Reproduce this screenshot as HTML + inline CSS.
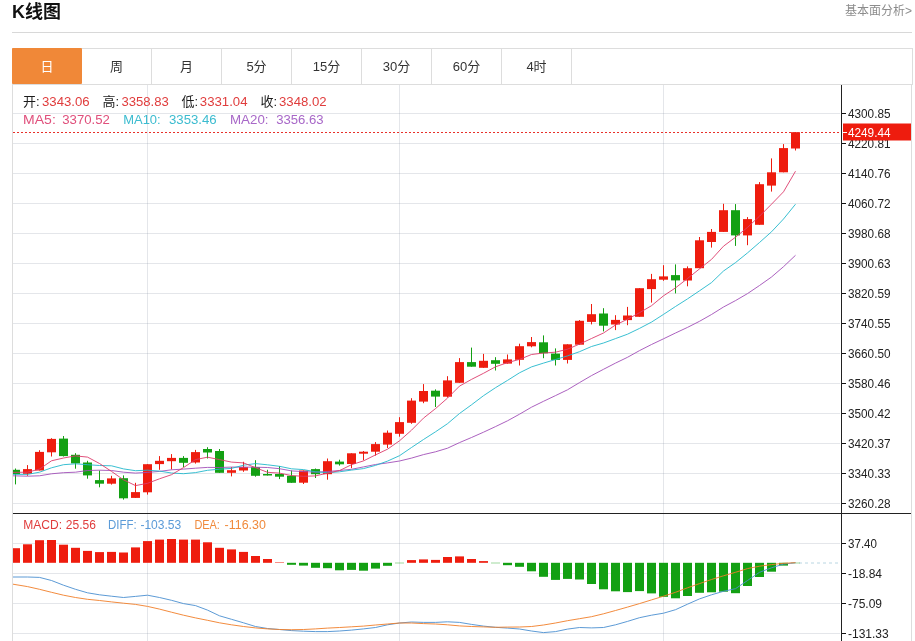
<!DOCTYPE html>
<html lang="zh-CN"><head><meta charset="utf-8"><title>K线图</title>
<style>
html,body{margin:0;padding:0;background:#fff;}
body{width:915px;height:641px;position:relative;overflow:hidden;font-family:"Liberation Sans","Noto Sans CJK SC",sans-serif;}
.title{position:absolute;left:12px;top:0;font-size:18px;font-weight:bold;color:#111;line-height:24px;}
.more{position:absolute;right:3px;top:3px;font-size:12px;color:#8c8c8c;line-height:17px;}
.hr{position:absolute;left:12px;top:32px;width:900px;height:1px;background:#d8d8d8;}
.tabs{position:absolute;left:12px;top:48px;width:899px;height:35px;border:1px solid #ddd;box-sizing:content-box;}
.tab{float:left;width:69px;height:35px;line-height:36px;border-right:1px solid #ddd;text-align:center;font-size:13px;color:#333;}
.tab.on{background:#f08838;color:#fff;border-radius:1px;margin:-1px 0 0 -1px;width:70px;height:36px;border-right:0;line-height:38px;}
</style></head><body>
<div class="title">K线图</div>
<div class="more">基本面分析&gt;</div>
<div class="hr"></div>
<div class="tabs"><div class="tab on">日</div><div class="tab">周</div><div class="tab">月</div><div class="tab">5分</div><div class="tab">15分</div><div class="tab">30分</div><div class="tab">60分</div><div class="tab">4时</div></div>
<svg width="915" height="641" viewBox="0 0 915 641" style="position:absolute;left:0;top:0" font-family="'Liberation Sans','Noto Sans CJK SC',sans-serif">
<defs><clipPath id="cp"><rect x="13" y="85" width="828" height="556"/></clipPath></defs>
<line x1="13" x2="840" y1="113.5" y2="113.5" stroke="#7a8096" stroke-opacity="0.2" stroke-width="1"/>
<line x1="13" x2="840" y1="143.5" y2="143.5" stroke="#7a8096" stroke-opacity="0.2" stroke-width="1"/>
<line x1="13" x2="840" y1="173.5" y2="173.5" stroke="#7a8096" stroke-opacity="0.2" stroke-width="1"/>
<line x1="13" x2="840" y1="203.5" y2="203.5" stroke="#7a8096" stroke-opacity="0.2" stroke-width="1"/>
<line x1="13" x2="840" y1="233.5" y2="233.5" stroke="#7a8096" stroke-opacity="0.2" stroke-width="1"/>
<line x1="13" x2="840" y1="263.5" y2="263.5" stroke="#7a8096" stroke-opacity="0.2" stroke-width="1"/>
<line x1="13" x2="840" y1="293.5" y2="293.5" stroke="#7a8096" stroke-opacity="0.2" stroke-width="1"/>
<line x1="13" x2="840" y1="323.5" y2="323.5" stroke="#7a8096" stroke-opacity="0.2" stroke-width="1"/>
<line x1="13" x2="840" y1="353.5" y2="353.5" stroke="#7a8096" stroke-opacity="0.2" stroke-width="1"/>
<line x1="13" x2="840" y1="383.5" y2="383.5" stroke="#7a8096" stroke-opacity="0.2" stroke-width="1"/>
<line x1="13" x2="840" y1="413.5" y2="413.5" stroke="#7a8096" stroke-opacity="0.2" stroke-width="1"/>
<line x1="13" x2="840" y1="443.5" y2="443.5" stroke="#7a8096" stroke-opacity="0.2" stroke-width="1"/>
<line x1="13" x2="840" y1="473.5" y2="473.5" stroke="#7a8096" stroke-opacity="0.2" stroke-width="1"/>
<line x1="13" x2="840" y1="503.5" y2="503.5" stroke="#7a8096" stroke-opacity="0.2" stroke-width="1"/>
<line x1="13" x2="840" y1="543.5" y2="543.5" stroke="#7a8096" stroke-opacity="0.2" stroke-width="1"/>
<line x1="13" x2="840" y1="573.5" y2="573.5" stroke="#7a8096" stroke-opacity="0.2" stroke-width="1"/>
<line x1="13" x2="840" y1="603.5" y2="603.5" stroke="#7a8096" stroke-opacity="0.2" stroke-width="1"/>
<line x1="13" x2="840" y1="633.5" y2="633.5" stroke="#7a8096" stroke-opacity="0.2" stroke-width="1"/>
<line x1="147.5" x2="147.5" y1="85" y2="641" stroke="#7a8096" stroke-opacity="0.2" stroke-width="1"/>
<line x1="399.5" x2="399.5" y1="85" y2="641" stroke="#7a8096" stroke-opacity="0.2" stroke-width="1"/>
<line x1="663.5" x2="663.5" y1="85" y2="641" stroke="#7a8096" stroke-opacity="0.2" stroke-width="1"/>
<line x1="12.5" x2="12.5" y1="84" y2="641" stroke="#ddd" stroke-width="1"/>
<line x1="911.5" x2="911.5" y1="84" y2="641" stroke="#ddd" stroke-width="1"/>
<line x1="799" x2="840" y1="563" y2="563" stroke="#b9d6e2" stroke-width="1" stroke-dasharray="3,3"/>
<g clip-path="url(#cp)">
<line x1="15.5" x2="15.5" y1="468.5" y2="484.4" stroke="#13a013" stroke-width="1"/>
<rect x="11.0" y="469.8" width="9" height="4.2" fill="#13a013"/>
<line x1="27.5" x2="27.5" y1="465.1" y2="475.8" stroke="#ee1c0e" stroke-width="1"/>
<rect x="23.0" y="469.1" width="9" height="4.7" fill="#ee1c0e"/>
<line x1="39.5" x2="39.5" y1="450.2" y2="470.5" stroke="#ee1c0e" stroke-width="1"/>
<rect x="35.0" y="451.9" width="9" height="18.6" fill="#ee1c0e"/>
<line x1="51.5" x2="51.5" y1="438.2" y2="456.5" stroke="#ee1c0e" stroke-width="1"/>
<rect x="47.0" y="438.9" width="9" height="13.4" fill="#ee1c0e"/>
<line x1="63.5" x2="63.5" y1="436.0" y2="456.5" stroke="#13a013" stroke-width="1"/>
<rect x="59.0" y="438.6" width="9" height="17.5" fill="#13a013"/>
<line x1="75.5" x2="75.5" y1="453.2" y2="468.7" stroke="#13a013" stroke-width="1"/>
<rect x="71.0" y="454.8" width="9" height="8.6" fill="#13a013"/>
<line x1="87.5" x2="87.5" y1="460.8" y2="478.7" stroke="#13a013" stroke-width="1"/>
<rect x="83.0" y="462.5" width="9" height="12.9" fill="#13a013"/>
<line x1="99.5" x2="99.5" y1="470.5" y2="487.3" stroke="#13a013" stroke-width="1"/>
<rect x="95.0" y="480.1" width="9" height="3.6" fill="#13a013"/>
<line x1="111.5" x2="111.5" y1="475.8" y2="484.6" stroke="#ee1c0e" stroke-width="1"/>
<rect x="107.0" y="478.4" width="9" height="5.3" fill="#ee1c0e"/>
<line x1="123.5" x2="123.5" y1="475.4" y2="499.6" stroke="#13a013" stroke-width="1"/>
<rect x="119.0" y="478.2" width="9" height="20.1" fill="#13a013"/>
<line x1="135.5" x2="135.5" y1="482.8" y2="497.9" stroke="#ee1c0e" stroke-width="1"/>
<rect x="131.0" y="492.1" width="9" height="5.8" fill="#ee1c0e"/>
<line x1="147.5" x2="147.5" y1="464.2" y2="494.6" stroke="#ee1c0e" stroke-width="1"/>
<rect x="143.0" y="464.2" width="9" height="28.1" fill="#ee1c0e"/>
<line x1="159.5" x2="159.5" y1="456.1" y2="469.8" stroke="#ee1c0e" stroke-width="1"/>
<rect x="155.0" y="460.8" width="9" height="3.3" fill="#ee1c0e"/>
<line x1="171.5" x2="171.5" y1="454.1" y2="469.5" stroke="#ee1c0e" stroke-width="1"/>
<rect x="167.0" y="457.9" width="9" height="3.3" fill="#ee1c0e"/>
<line x1="183.5" x2="183.5" y1="456.1" y2="467.1" stroke="#13a013" stroke-width="1"/>
<rect x="179.0" y="457.9" width="9" height="4.9" fill="#13a013"/>
<line x1="195.5" x2="195.5" y1="449.9" y2="463.6" stroke="#ee1c0e" stroke-width="1"/>
<rect x="191.0" y="452.1" width="9" height="10.4" fill="#ee1c0e"/>
<line x1="207.5" x2="207.5" y1="447.2" y2="458.5" stroke="#13a013" stroke-width="1"/>
<rect x="203.0" y="449.0" width="9" height="3.5" fill="#13a013"/>
<line x1="219.5" x2="219.5" y1="449.0" y2="472.8" stroke="#13a013" stroke-width="1"/>
<rect x="215.0" y="451.0" width="9" height="21.8" fill="#13a013"/>
<line x1="231.5" x2="231.5" y1="467.1" y2="476.4" stroke="#ee1c0e" stroke-width="1"/>
<rect x="227.0" y="470.2" width="9" height="2.6" fill="#ee1c0e"/>
<line x1="243.5" x2="243.5" y1="461.8" y2="471.8" stroke="#ee1c0e" stroke-width="1"/>
<rect x="239.0" y="467.1" width="9" height="3.4" fill="#ee1c0e"/>
<line x1="255.5" x2="255.5" y1="460.2" y2="476.7" stroke="#13a013" stroke-width="1"/>
<rect x="251.0" y="467.1" width="9" height="8.7" fill="#13a013"/>
<line x1="267.5" x2="267.5" y1="469.8" y2="475.5" stroke="#13a013" stroke-width="1"/>
<rect x="263.0" y="474.0" width="9" height="1.5" fill="#13a013"/>
<line x1="279.5" x2="279.5" y1="466.1" y2="479.1" stroke="#13a013" stroke-width="1"/>
<rect x="275.0" y="474.0" width="9" height="2.7" fill="#13a013"/>
<line x1="291.5" x2="291.5" y1="470.5" y2="482.8" stroke="#13a013" stroke-width="1"/>
<rect x="287.0" y="475.8" width="9" height="7.0" fill="#13a013"/>
<line x1="303.5" x2="303.5" y1="470.5" y2="484.0" stroke="#ee1c0e" stroke-width="1"/>
<rect x="299.0" y="470.5" width="9" height="12.2" fill="#ee1c0e"/>
<line x1="315.5" x2="315.5" y1="468.5" y2="478.0" stroke="#13a013" stroke-width="1"/>
<rect x="311.0" y="469.1" width="9" height="5.1" fill="#13a013"/>
<line x1="327.5" x2="327.5" y1="458.5" y2="479.7" stroke="#ee1c0e" stroke-width="1"/>
<rect x="323.0" y="461.2" width="9" height="13.0" fill="#ee1c0e"/>
<line x1="339.5" x2="339.5" y1="459.7" y2="465.6" stroke="#13a013" stroke-width="1"/>
<rect x="335.0" y="461.6" width="9" height="2.7" fill="#13a013"/>
<line x1="351.5" x2="351.5" y1="453.3" y2="468.2" stroke="#ee1c0e" stroke-width="1"/>
<rect x="347.0" y="453.3" width="9" height="10.7" fill="#ee1c0e"/>
<line x1="363.5" x2="363.5" y1="451.0" y2="460.3" stroke="#ee1c0e" stroke-width="1"/>
<rect x="359.0" y="451.7" width="9" height="2.0" fill="#ee1c0e"/>
<line x1="375.5" x2="375.5" y1="442.1" y2="455.6" stroke="#ee1c0e" stroke-width="1"/>
<rect x="371.0" y="444.1" width="9" height="7.6" fill="#ee1c0e"/>
<line x1="387.5" x2="387.5" y1="430.5" y2="448.0" stroke="#ee1c0e" stroke-width="1"/>
<rect x="383.0" y="432.7" width="9" height="11.9" fill="#ee1c0e"/>
<line x1="399.5" x2="399.5" y1="417.2" y2="436.7" stroke="#ee1c0e" stroke-width="1"/>
<rect x="395.0" y="422.1" width="9" height="11.7" fill="#ee1c0e"/>
<line x1="411.5" x2="411.5" y1="398.2" y2="423.8" stroke="#ee1c0e" stroke-width="1"/>
<rect x="407.0" y="400.6" width="9" height="22.2" fill="#ee1c0e"/>
<line x1="423.5" x2="423.5" y1="384.1" y2="403.2" stroke="#ee1c0e" stroke-width="1"/>
<rect x="419.0" y="391.0" width="9" height="10.6" fill="#ee1c0e"/>
<line x1="435.5" x2="435.5" y1="389.4" y2="407.0" stroke="#13a013" stroke-width="1"/>
<rect x="431.0" y="390.7" width="9" height="5.9" fill="#13a013"/>
<line x1="447.5" x2="447.5" y1="376.2" y2="397.5" stroke="#ee1c0e" stroke-width="1"/>
<rect x="443.0" y="380.4" width="9" height="16.3" fill="#ee1c0e"/>
<line x1="459.5" x2="459.5" y1="358.1" y2="382.8" stroke="#ee1c0e" stroke-width="1"/>
<rect x="455.0" y="362.1" width="9" height="20.7" fill="#ee1c0e"/>
<line x1="471.5" x2="471.5" y1="347.6" y2="366.7" stroke="#13a013" stroke-width="1"/>
<rect x="467.0" y="362.1" width="9" height="4.6" fill="#13a013"/>
<line x1="483.5" x2="483.5" y1="353.9" y2="367.8" stroke="#ee1c0e" stroke-width="1"/>
<rect x="479.0" y="360.8" width="9" height="7.0" fill="#ee1c0e"/>
<line x1="495.5" x2="495.5" y1="357.2" y2="370.5" stroke="#13a013" stroke-width="1"/>
<rect x="491.0" y="360.2" width="9" height="3.6" fill="#13a013"/>
<line x1="507.5" x2="507.5" y1="354.5" y2="363.6" stroke="#ee1c0e" stroke-width="1"/>
<rect x="503.0" y="359.4" width="9" height="4.2" fill="#ee1c0e"/>
<line x1="519.5" x2="519.5" y1="343.7" y2="365.5" stroke="#ee1c0e" stroke-width="1"/>
<rect x="515.0" y="346.2" width="9" height="13.6" fill="#ee1c0e"/>
<line x1="531.5" x2="531.5" y1="337.0" y2="347.3" stroke="#ee1c0e" stroke-width="1"/>
<rect x="527.0" y="342.1" width="9" height="4.2" fill="#ee1c0e"/>
<line x1="543.5" x2="543.5" y1="335.4" y2="358.2" stroke="#13a013" stroke-width="1"/>
<rect x="539.0" y="342.3" width="9" height="11.0" fill="#13a013"/>
<line x1="555.5" x2="555.5" y1="348.4" y2="365.5" stroke="#13a013" stroke-width="1"/>
<rect x="551.0" y="353.6" width="9" height="6.3" fill="#13a013"/>
<line x1="567.5" x2="567.5" y1="344.3" y2="363.5" stroke="#ee1c0e" stroke-width="1"/>
<rect x="563.0" y="344.3" width="9" height="15.6" fill="#ee1c0e"/>
<line x1="579.5" x2="579.5" y1="320.1" y2="344.7" stroke="#ee1c0e" stroke-width="1"/>
<rect x="575.0" y="320.8" width="9" height="23.9" fill="#ee1c0e"/>
<line x1="591.5" x2="591.5" y1="304.0" y2="324.4" stroke="#ee1c0e" stroke-width="1"/>
<rect x="587.0" y="314.2" width="9" height="7.7" fill="#ee1c0e"/>
<line x1="603.5" x2="603.5" y1="308.2" y2="331.4" stroke="#13a013" stroke-width="1"/>
<rect x="599.0" y="313.5" width="9" height="12.2" fill="#13a013"/>
<line x1="615.5" x2="615.5" y1="315.2" y2="330.1" stroke="#ee1c0e" stroke-width="1"/>
<rect x="611.0" y="319.9" width="9" height="4.6" fill="#ee1c0e"/>
<line x1="627.5" x2="627.5" y1="306.9" y2="325.2" stroke="#ee1c0e" stroke-width="1"/>
<rect x="623.0" y="315.5" width="9" height="4.6" fill="#ee1c0e"/>
<line x1="639.5" x2="639.5" y1="288.2" y2="316.8" stroke="#ee1c0e" stroke-width="1"/>
<rect x="635.0" y="288.2" width="9" height="28.6" fill="#ee1c0e"/>
<line x1="651.5" x2="651.5" y1="273.9" y2="302.6" stroke="#ee1c0e" stroke-width="1"/>
<rect x="647.0" y="279.2" width="9" height="9.9" fill="#ee1c0e"/>
<line x1="663.5" x2="663.5" y1="265.2" y2="280.8" stroke="#ee1c0e" stroke-width="1"/>
<rect x="659.0" y="276.4" width="9" height="3.3" fill="#ee1c0e"/>
<line x1="675.5" x2="675.5" y1="264.4" y2="293.4" stroke="#13a013" stroke-width="1"/>
<rect x="671.0" y="275.1" width="9" height="5.3" fill="#13a013"/>
<line x1="687.5" x2="687.5" y1="266.4" y2="286.3" stroke="#ee1c0e" stroke-width="1"/>
<rect x="683.0" y="268.2" width="9" height="12.3" fill="#ee1c0e"/>
<line x1="699.5" x2="699.5" y1="237.0" y2="268.2" stroke="#ee1c0e" stroke-width="1"/>
<rect x="695.0" y="240.3" width="9" height="27.9" fill="#ee1c0e"/>
<line x1="711.5" x2="711.5" y1="229.0" y2="247.6" stroke="#ee1c0e" stroke-width="1"/>
<rect x="707.0" y="231.9" width="9" height="10.1" fill="#ee1c0e"/>
<line x1="723.5" x2="723.5" y1="203.8" y2="231.9" stroke="#ee1c0e" stroke-width="1"/>
<rect x="719.0" y="210.2" width="9" height="21.7" fill="#ee1c0e"/>
<line x1="735.5" x2="735.5" y1="204.1" y2="245.9" stroke="#13a013" stroke-width="1"/>
<rect x="731.0" y="210.2" width="9" height="25.2" fill="#13a013"/>
<line x1="747.5" x2="747.5" y1="217.1" y2="245.2" stroke="#ee1c0e" stroke-width="1"/>
<rect x="743.0" y="219.1" width="9" height="16.3" fill="#ee1c0e"/>
<line x1="759.5" x2="759.5" y1="182.1" y2="224.8" stroke="#ee1c0e" stroke-width="1"/>
<rect x="755.0" y="184.2" width="9" height="40.6" fill="#ee1c0e"/>
<line x1="771.5" x2="771.5" y1="158.4" y2="191.6" stroke="#ee1c0e" stroke-width="1"/>
<rect x="767.0" y="172.3" width="9" height="13.3" fill="#ee1c0e"/>
<line x1="783.5" x2="783.5" y1="144.1" y2="172.3" stroke="#ee1c0e" stroke-width="1"/>
<rect x="779.0" y="148.1" width="9" height="24.2" fill="#ee1c0e"/>
<line x1="795.5" x2="795.5" y1="132.2" y2="150.5" stroke="#ee1c0e" stroke-width="1"/>
<rect x="791.0" y="132.2" width="9" height="16.3" fill="#ee1c0e"/>
<polyline fill="none" stroke="#a24fb8" stroke-width="0.9" stroke-linejoin="round" points="13.0,475.8 27.5,476.2 39.5,475.8 51.5,473.8 63.5,472.7 75.5,472.2 87.5,470.5 99.5,470.2 111.5,470.5 123.5,472.2 135.5,473.1 147.5,472.4 159.5,471.4 171.5,469.8 183.5,469.1 195.5,468.2 207.5,467.4 219.5,467.5 231.5,467.1 243.5,467.1 255.5,467.2 267.5,467.5 279.5,468.7 291.5,470.9 303.5,471.6 315.5,472.2 327.5,471.5 339.5,470.5 351.5,469.3 363.5,466.9 375.5,464.5 387.5,462.9 399.5,461.0 411.5,458.1 423.5,454.6 435.5,451.8 447.5,448.2 459.5,442.6 471.5,437.5 483.5,432.2 495.5,426.6 507.5,420.8 519.5,414.2 531.5,407.2 543.5,401.3 555.5,395.6 567.5,389.8 579.5,382.6 591.5,375.6 603.5,369.3 615.5,363.1 627.5,357.3 639.5,350.6 651.5,344.5 663.5,338.8 675.5,333.0 687.5,327.4 699.5,321.3 711.5,314.5 723.5,307.0 735.5,300.6 747.5,293.6 759.5,285.5 771.5,277.0 783.5,266.7 795.5,255.3"/>
<polyline fill="none" stroke="#22b8cc" stroke-width="0.9" stroke-linejoin="round" points="13.0,474.4 27.5,474.4 39.5,472.2 51.5,467.8 63.5,464.7 75.5,463.8 87.5,464.7 99.5,465.5 111.5,465.8 123.5,468.9 135.5,470.7 147.5,470.2 159.5,471.1 171.5,473.0 183.5,473.7 195.5,472.6 207.5,470.3 219.5,469.2 231.5,468.4 243.5,465.2 255.5,463.6 267.5,464.8 279.5,466.3 291.5,468.8 303.5,469.6 315.5,471.8 327.5,472.7 339.5,471.8 351.5,470.1 363.5,468.6 375.5,465.4 387.5,461.1 399.5,455.7 411.5,447.5 423.5,439.5 435.5,431.8 447.5,423.7 459.5,413.5 471.5,404.8 483.5,395.7 495.5,387.7 507.5,380.4 519.5,372.8 531.5,366.9 543.5,363.1 555.5,359.5 567.5,355.9 579.5,351.7 591.5,346.5 603.5,343.0 615.5,338.6 627.5,334.2 639.5,328.4 651.5,322.1 663.5,314.4 675.5,306.5 687.5,298.9 699.5,290.8 711.5,282.6 723.5,271.0 735.5,262.6 747.5,252.9 759.5,242.5 771.5,231.8 783.5,219.0 795.5,204.2"/>
<polyline fill="none" stroke="#dc3c6c" stroke-width="0.9" stroke-linejoin="round" points="13.0,472.4 27.5,472.2 39.5,469.1 51.5,460.8 63.5,458.0 75.5,455.9 87.5,457.1 99.5,463.5 111.5,471.4 123.5,479.8 135.5,485.6 147.5,483.3 159.5,478.8 171.5,474.7 183.5,467.6 195.5,459.6 207.5,457.2 219.5,459.6 231.5,462.1 243.5,462.9 255.5,467.7 267.5,472.3 279.5,473.1 291.5,475.6 303.5,476.3 315.5,475.9 327.5,473.1 339.5,470.6 351.5,464.7 363.5,460.9 375.5,454.9 387.5,449.2 399.5,440.8 411.5,430.2 423.5,418.1 435.5,408.6 447.5,398.1 459.5,386.1 471.5,379.4 483.5,373.3 495.5,366.8 507.5,362.6 519.5,359.4 531.5,354.5 543.5,353.0 555.5,352.2 567.5,349.2 579.5,344.1 591.5,338.5 603.5,333.0 615.5,325.0 627.5,319.2 639.5,312.7 651.5,305.7 663.5,295.8 675.5,287.9 687.5,278.5 699.5,268.9 711.5,259.4 723.5,246.2 735.5,237.2 747.5,227.4 759.5,216.2 771.5,204.2 783.5,191.8 795.5,171.2"/>
<rect x="11.0" y="548.2" width="9" height="14.6" fill="#ee1c0e"/>
<rect x="23.0" y="544.3" width="9" height="18.5" fill="#ee1c0e"/>
<rect x="35.0" y="540.2" width="9" height="22.6" fill="#ee1c0e"/>
<rect x="47.0" y="540.0" width="9" height="22.8" fill="#ee1c0e"/>
<rect x="59.0" y="544.7" width="9" height="18.1" fill="#ee1c0e"/>
<rect x="71.0" y="547.8" width="9" height="15.0" fill="#ee1c0e"/>
<rect x="83.0" y="550.9" width="9" height="11.9" fill="#ee1c0e"/>
<rect x="95.0" y="552.1" width="9" height="10.7" fill="#ee1c0e"/>
<rect x="107.0" y="551.9" width="9" height="10.9" fill="#ee1c0e"/>
<rect x="119.0" y="552.5" width="9" height="10.3" fill="#ee1c0e"/>
<rect x="131.0" y="547.4" width="9" height="15.4" fill="#ee1c0e"/>
<rect x="143.0" y="541.1" width="9" height="21.7" fill="#ee1c0e"/>
<rect x="155.0" y="539.6" width="9" height="23.2" fill="#ee1c0e"/>
<rect x="167.0" y="539.0" width="9" height="23.8" fill="#ee1c0e"/>
<rect x="179.0" y="539.6" width="9" height="23.2" fill="#ee1c0e"/>
<rect x="191.0" y="539.6" width="9" height="23.2" fill="#ee1c0e"/>
<rect x="203.0" y="542.3" width="9" height="20.5" fill="#ee1c0e"/>
<rect x="215.0" y="547.8" width="9" height="15.0" fill="#ee1c0e"/>
<rect x="227.0" y="549.4" width="9" height="13.4" fill="#ee1c0e"/>
<rect x="239.0" y="551.9" width="9" height="10.9" fill="#ee1c0e"/>
<rect x="251.0" y="556.0" width="9" height="6.8" fill="#ee1c0e"/>
<rect x="263.0" y="559.0" width="9" height="3.8" fill="#ee1c0e"/>
<rect x="275.0" y="562.3" width="9" height="0.5" fill="#ee1c0e"/>
<rect x="287.0" y="562.8" width="9" height="2.0" fill="#13a013"/>
<rect x="299.0" y="562.8" width="9" height="2.8" fill="#13a013"/>
<rect x="311.0" y="562.8" width="9" height="5.0" fill="#13a013"/>
<rect x="323.0" y="562.8" width="9" height="5.4" fill="#13a013"/>
<rect x="335.0" y="562.8" width="9" height="7.5" fill="#13a013"/>
<rect x="347.0" y="562.8" width="9" height="7.1" fill="#13a013"/>
<rect x="359.0" y="562.8" width="9" height="7.9" fill="#13a013"/>
<rect x="371.0" y="562.8" width="9" height="5.8" fill="#13a013"/>
<rect x="383.0" y="562.8" width="9" height="3.0" fill="#13a013"/>
<rect x="395.0" y="562.8" width="9" height="0.4" fill="#13a013"/>
<rect x="407.0" y="560.1" width="9" height="2.7" fill="#ee1c0e"/>
<rect x="419.0" y="559.4" width="9" height="3.4" fill="#ee1c0e"/>
<rect x="431.0" y="559.9" width="9" height="2.9" fill="#ee1c0e"/>
<rect x="443.0" y="557.0" width="9" height="5.8" fill="#ee1c0e"/>
<rect x="455.0" y="556.4" width="9" height="6.4" fill="#ee1c0e"/>
<rect x="467.0" y="559.0" width="9" height="3.8" fill="#ee1c0e"/>
<rect x="479.0" y="561.1" width="9" height="1.7" fill="#ee1c0e"/>
<rect x="491.0" y="562.8" width="9" height="0.4" fill="#13a013"/>
<rect x="503.0" y="562.8" width="9" height="2.4" fill="#13a013"/>
<rect x="515.0" y="562.8" width="9" height="4.0" fill="#13a013"/>
<rect x="527.0" y="562.8" width="9" height="8.5" fill="#13a013"/>
<rect x="539.0" y="562.8" width="9" height="14.0" fill="#13a013"/>
<rect x="551.0" y="562.8" width="9" height="17.1" fill="#13a013"/>
<rect x="563.0" y="562.8" width="9" height="16.1" fill="#13a013"/>
<rect x="575.0" y="562.8" width="9" height="16.7" fill="#13a013"/>
<rect x="587.0" y="562.8" width="9" height="21.2" fill="#13a013"/>
<rect x="599.0" y="562.8" width="9" height="26.5" fill="#13a013"/>
<rect x="611.0" y="562.8" width="9" height="28.5" fill="#13a013"/>
<rect x="623.0" y="562.8" width="9" height="29.3" fill="#13a013"/>
<rect x="635.0" y="562.8" width="9" height="28.3" fill="#13a013"/>
<rect x="647.0" y="562.8" width="9" height="30.6" fill="#13a013"/>
<rect x="659.0" y="562.8" width="9" height="34.0" fill="#13a013"/>
<rect x="671.0" y="562.8" width="9" height="35.5" fill="#13a013"/>
<rect x="683.0" y="562.8" width="9" height="33.2" fill="#13a013"/>
<rect x="695.0" y="562.8" width="9" height="30.0" fill="#13a013"/>
<rect x="707.0" y="562.8" width="9" height="29.5" fill="#13a013"/>
<rect x="719.0" y="562.8" width="9" height="28.9" fill="#13a013"/>
<rect x="731.0" y="562.8" width="9" height="30.4" fill="#13a013"/>
<rect x="743.0" y="562.8" width="9" height="23.2" fill="#13a013"/>
<rect x="755.0" y="562.8" width="9" height="14.2" fill="#13a013"/>
<rect x="767.0" y="562.8" width="9" height="8.9" fill="#13a013"/>
<rect x="779.0" y="562.8" width="9" height="2.8" fill="#13a013"/>
<rect x="791.0" y="562.8" width="9" height="0.4" fill="#13a013"/>
<polyline fill="none" stroke="#4a8fd0" stroke-width="0.9" stroke-linejoin="round" points="13.0,577.0 27.5,577.0 39.5,577.4 51.5,580.5 63.5,585.2 75.5,589.3 87.5,592.8 99.5,594.8 111.5,596.2 123.5,597.5 135.5,596.4 147.5,595.2 159.5,597.5 171.5,600.3 183.5,603.6 195.5,605.6 207.5,610.1 219.5,615.8 231.5,619.3 243.5,622.8 255.5,626.5 267.5,628.5 279.5,629.5 291.5,630.6 303.5,631.2 315.5,631.6 327.5,631.6 339.5,631.0 351.5,630.1 363.5,628.9 375.5,627.5 387.5,624.8 399.5,623.0 411.5,622.0 423.5,622.4 435.5,622.4 447.5,621.8 459.5,622.4 471.5,624.4 483.5,626.1 495.5,627.3 507.5,628.1 519.5,629.0 531.5,631.0 543.5,632.6 555.5,631.6 567.5,629.1 579.5,627.5 591.5,627.9 603.5,627.5 615.5,624.8 627.5,621.4 639.5,617.7 651.5,615.2 663.5,613.2 675.5,609.7 687.5,604.2 699.5,598.9 711.5,594.8 723.5,591.3 735.5,588.7 747.5,580.5 759.5,572.3 771.5,567.8 783.5,564.1 795.5,562.7"/>
<polyline fill="none" stroke="#f07e28" stroke-width="0.9" stroke-linejoin="round" points="13.0,584.2 27.5,586.6 39.5,589.3 51.5,592.3 63.5,595.2 75.5,597.5 87.5,599.3 99.5,600.5 111.5,601.9 123.5,603.2 135.5,604.4 147.5,606.4 159.5,609.1 171.5,612.2 183.5,615.2 195.5,617.9 207.5,620.3 219.5,622.8 231.5,624.8 243.5,626.5 255.5,627.9 267.5,628.9 279.5,629.5 291.5,629.7 303.5,629.5 315.5,628.9 327.5,628.1 339.5,627.5 351.5,626.8 363.5,626.1 375.5,625.0 387.5,624.0 399.5,623.0 411.5,623.0 423.5,623.6 435.5,624.0 447.5,624.8 459.5,625.9 471.5,626.5 483.5,626.9 495.5,627.3 507.5,627.1 519.5,627.0 531.5,626.5 543.5,625.0 555.5,623.0 567.5,620.7 579.5,618.7 591.5,616.7 603.5,613.8 615.5,610.5 627.5,607.1 639.5,603.6 651.5,599.9 663.5,596.2 675.5,592.3 687.5,587.8 699.5,583.6 711.5,579.5 723.5,575.8 735.5,572.3 747.5,568.6 759.5,566.2 771.5,564.6 783.5,563.3 795.5,562.7"/>
</g>
<line x1="13" x2="841" y1="132.5" y2="132.5" stroke="#e8302a" stroke-width="1" stroke-dasharray="2,2"/>
<line x1="13" x2="911" y1="513.5" y2="513.5" stroke="#222" stroke-width="1"/>
<line x1="841.5" x2="841.5" y1="85" y2="641" stroke="#222" stroke-width="1"/>
<line x1="842" x2="846" y1="113.5" y2="113.5" stroke="#111" stroke-width="1"/>
<text x="848" y="117.8" font-size="12" fill="#222" textLength="42.5" lengthAdjust="spacingAndGlyphs">4300.85</text>
<line x1="842" x2="846" y1="143.5" y2="143.5" stroke="#111" stroke-width="1"/>
<text x="848" y="147.8" font-size="12" fill="#222" textLength="42.5" lengthAdjust="spacingAndGlyphs">4220.81</text>
<line x1="842" x2="846" y1="173.5" y2="173.5" stroke="#111" stroke-width="1"/>
<text x="848" y="177.8" font-size="12" fill="#222" textLength="42.5" lengthAdjust="spacingAndGlyphs">4140.76</text>
<line x1="842" x2="846" y1="203.5" y2="203.5" stroke="#111" stroke-width="1"/>
<text x="848" y="207.8" font-size="12" fill="#222" textLength="42.5" lengthAdjust="spacingAndGlyphs">4060.72</text>
<line x1="842" x2="846" y1="233.5" y2="233.5" stroke="#111" stroke-width="1"/>
<text x="848" y="237.8" font-size="12" fill="#222" textLength="42.5" lengthAdjust="spacingAndGlyphs">3980.68</text>
<line x1="842" x2="846" y1="263.5" y2="263.5" stroke="#111" stroke-width="1"/>
<text x="848" y="267.8" font-size="12" fill="#222" textLength="42.5" lengthAdjust="spacingAndGlyphs">3900.63</text>
<line x1="842" x2="846" y1="293.5" y2="293.5" stroke="#111" stroke-width="1"/>
<text x="848" y="297.8" font-size="12" fill="#222" textLength="42.5" lengthAdjust="spacingAndGlyphs">3820.59</text>
<line x1="842" x2="846" y1="323.5" y2="323.5" stroke="#111" stroke-width="1"/>
<text x="848" y="327.8" font-size="12" fill="#222" textLength="42.5" lengthAdjust="spacingAndGlyphs">3740.55</text>
<line x1="842" x2="846" y1="353.5" y2="353.5" stroke="#111" stroke-width="1"/>
<text x="848" y="357.8" font-size="12" fill="#222" textLength="42.5" lengthAdjust="spacingAndGlyphs">3660.50</text>
<line x1="842" x2="846" y1="383.5" y2="383.5" stroke="#111" stroke-width="1"/>
<text x="848" y="387.8" font-size="12" fill="#222" textLength="42.5" lengthAdjust="spacingAndGlyphs">3580.46</text>
<line x1="842" x2="846" y1="413.5" y2="413.5" stroke="#111" stroke-width="1"/>
<text x="848" y="417.8" font-size="12" fill="#222" textLength="42.5" lengthAdjust="spacingAndGlyphs">3500.42</text>
<line x1="842" x2="846" y1="443.5" y2="443.5" stroke="#111" stroke-width="1"/>
<text x="848" y="447.8" font-size="12" fill="#222" textLength="42.5" lengthAdjust="spacingAndGlyphs">3420.37</text>
<line x1="842" x2="846" y1="473.5" y2="473.5" stroke="#111" stroke-width="1"/>
<text x="848" y="477.8" font-size="12" fill="#222" textLength="42.5" lengthAdjust="spacingAndGlyphs">3340.33</text>
<line x1="842" x2="846" y1="503.5" y2="503.5" stroke="#111" stroke-width="1"/>
<text x="848" y="507.8" font-size="12" fill="#222" textLength="42.5" lengthAdjust="spacingAndGlyphs">3260.28</text>
<line x1="842" x2="846" y1="543.5" y2="543.5" stroke="#111" stroke-width="1"/>
<text x="848" y="547.8" font-size="12" fill="#222" textLength="29" lengthAdjust="spacingAndGlyphs">37.40</text>
<line x1="842" x2="846" y1="573.5" y2="573.5" stroke="#111" stroke-width="1"/>
<text x="848" y="577.8" font-size="12" fill="#222">-18.84</text>
<line x1="842" x2="846" y1="603.5" y2="603.5" stroke="#111" stroke-width="1"/>
<text x="848" y="607.8" font-size="12" fill="#222">-75.09</text>
<line x1="842" x2="846" y1="633.5" y2="633.5" stroke="#111" stroke-width="1"/>
<text x="848" y="637.8" font-size="12" fill="#222">-131.33</text>
<rect x="843" y="123.5" width="68" height="17" fill="#ee1c0e"/>
<line x1="843" x2="847" y1="132.5" y2="132.5" stroke="#fff" stroke-width="1"/>
<text x="848" y="136.8" font-size="12" fill="#fff" textLength="42.5" lengthAdjust="spacingAndGlyphs">4249.44</text>
<text x="23" y="105.8" font-size="13" fill="#1c1c1c">开:</text>
<text x="42" y="105.8" font-size="13" fill="#e03c3c" textLength="47.7" lengthAdjust="spacingAndGlyphs">3343.06</text>
<text x="102.5" y="105.8" font-size="13" fill="#1c1c1c">高:</text>
<text x="121.4" y="105.8" font-size="13" fill="#e03c3c" textLength="47.3" lengthAdjust="spacingAndGlyphs">3358.83</text>
<text x="181.5" y="105.8" font-size="13" fill="#1c1c1c">低:</text>
<text x="199.8" y="105.8" font-size="13" fill="#e03c3c" textLength="47.7" lengthAdjust="spacingAndGlyphs">3331.04</text>
<text x="260.6" y="105.8" font-size="13" fill="#1c1c1c">收:</text>
<text x="279" y="105.8" font-size="13" fill="#e03c3c" textLength="47.7" lengthAdjust="spacingAndGlyphs">3348.02</text>
<text x="23.1" y="124" font-size="13.6" fill="#e0507c" textLength="32.7" lengthAdjust="spacingAndGlyphs">MA5:</text>
<text x="62.3" y="124" font-size="13.6" fill="#e0507c" textLength="47.6" lengthAdjust="spacingAndGlyphs">3370.52</text>
<text x="123.2" y="124" font-size="13.6" fill="#3cbcd0" textLength="37.5" lengthAdjust="spacingAndGlyphs">MA10:</text>
<text x="169" y="124" font-size="13.6" fill="#3cbcd0" textLength="47.7" lengthAdjust="spacingAndGlyphs">3353.46</text>
<text x="230" y="124" font-size="13.6" fill="#a868c8" textLength="38.5" lengthAdjust="spacingAndGlyphs">MA20:</text>
<text x="276.2" y="124" font-size="13.6" fill="#a868c8" textLength="47.4" lengthAdjust="spacingAndGlyphs">3356.63</text>
<text x="23.3" y="529" font-size="12" fill="#e03c3c" textLength="38.8" lengthAdjust="spacingAndGlyphs">MACD:</text>
<text x="65.8" y="529" font-size="12" fill="#e03c3c" textLength="30.1" lengthAdjust="spacingAndGlyphs">25.56</text>
<text x="108.1" y="529" font-size="12" fill="#5b9bd8" textLength="28.6" lengthAdjust="spacingAndGlyphs">DIFF:</text>
<text x="140.4" y="529" font-size="12" fill="#5b9bd8" textLength="40.9" lengthAdjust="spacingAndGlyphs">-103.53</text>
<text x="194.4" y="529" font-size="12" fill="#f08a3c" textLength="25.5" lengthAdjust="spacingAndGlyphs">DEA:</text>
<text x="224.6" y="529" font-size="12" fill="#f08a3c" textLength="41.3" lengthAdjust="spacingAndGlyphs">-116.30</text>
</svg>
</body></html>
